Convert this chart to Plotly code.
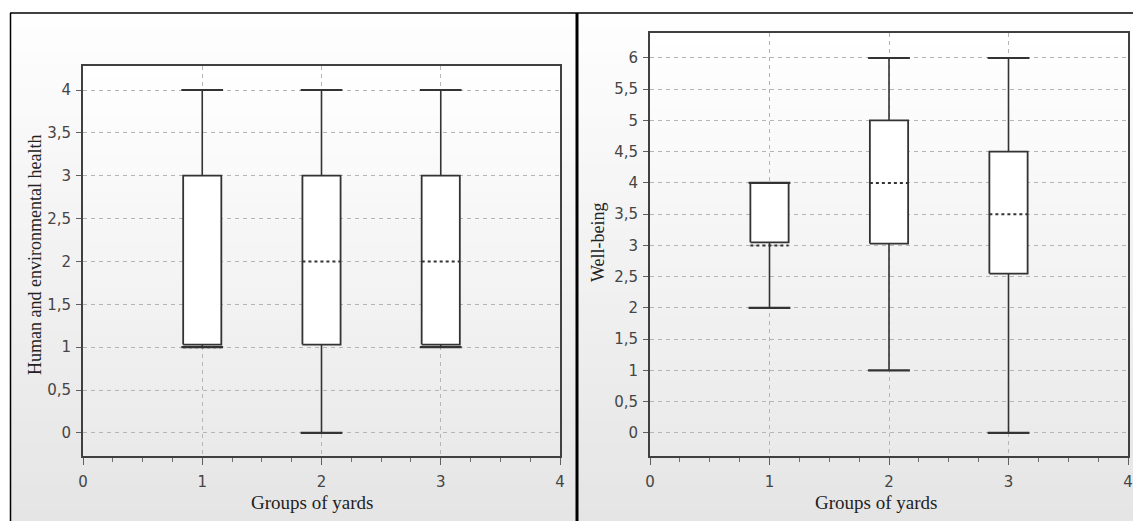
import plotly.graph_objects as go

# ---------------- data ----------------
groups = [1, 2, 3]

left_title = "Human and environmental health"
left_min = [1, 0, 1]
left_q1 = [1.03, 1.03, 1.03]
left_med = [1, 2, 2]
left_q3 = [3, 3, 3]
left_max = [4, 4, 4]

right_title = "Well-being"
right_min = [2, 1, 0]
right_q1 = [3.05, 3.03, 2.55]
right_med = [3, 4, 3.5]
right_q3 = [4, 5, 4.5]
right_max = [4, 6, 6]

x_title = "Groups of yards"

# ---------------- style ----------------
W, H = 1133, 521
BOX_HW = 0.16
CAP_HW = 0.175
DARK = "#333333"

def px_x(p):
    return p / W

def px_y(p):
    return 1 - p / H

fig = go.Figure()

def add_boxes(xa, ya, mins, q1s, meds, q3s, maxs):
    for g, mn, q1, md, q3, mx in zip(groups, mins, q1s, meds, q3s, maxs):
        # whiskers
        fig.add_trace(go.Scatter(x=[g, g, None, g, g], y=[mn, q1, None, q3, mx],
                                 mode="lines", line=dict(color=DARK, width=1.6),
                                 xaxis=xa, yaxis=ya, showlegend=False, hoverinfo="skip"))
        # box
        fig.add_trace(go.Scatter(x=[g - BOX_HW, g + BOX_HW, g + BOX_HW, g - BOX_HW, g - BOX_HW],
                                 y=[q1, q1, q3, q3, q1], mode="lines", fill="toself",
                                 fillcolor="white", line=dict(color=DARK, width=1.8),
                                 xaxis=xa, yaxis=ya, showlegend=False, hoverinfo="skip"))
        # caps
        fig.add_trace(go.Scatter(x=[g - CAP_HW, g + CAP_HW, None, g - CAP_HW, g + CAP_HW],
                                 y=[mn, mn, None, mx, mx], mode="lines",
                                 line=dict(color=DARK, width=2.2),
                                 xaxis=xa, yaxis=ya, showlegend=False, hoverinfo="skip"))
        # median (dashed)
        fig.add_trace(go.Scatter(x=[g - BOX_HW, g + BOX_HW], y=[md, md], mode="lines",
                                 line=dict(color=DARK, width=2, dash="3px,3px"),
                                 xaxis=xa, yaxis=ya, showlegend=False, hoverinfo="skip"))

add_boxes("x", "y", left_min, left_q1, left_med, left_q3, left_max)
add_boxes("x2", "y2", right_min, right_q1, right_med, right_q3, right_max)

# ---------------- background gradients ----------------
shapes = []

def gradient(x0p, x1p, y0p, y1p, c_top, c_bot, n=40):
    for i in range(n):
        t = i / (n - 1)
        c = [round(c_top[k] + (c_bot[k] - c_top[k]) * t) for k in range(3)]
        ya = y0p + (y1p - y0p) * i / n
        yb = y0p + (y1p - y0p) * (i + 1) / n
        shapes.append(dict(type="rect", xref="paper", yref="paper", layer="below",
                           x0=px_x(x0p), x1=px_x(x1p), y0=px_y(ya), y1=px_y(yb + 0.5),
                           line=dict(width=0), fillcolor=f"rgb({c[0]},{c[1]},{c[2]})"))

gradient(10, W, 13, H, (254, 254, 254), (229, 229, 229))
gradient(83, 560, 66, 456, (255, 255, 255), (234, 234, 234))
gradient(650, 1128, 33, 456, (255, 255, 255), (234, 234, 234))

# frame lines
shapes.append(dict(type="line", xref="paper", yref="paper", x0=px_x(10), x1=1,
                   y0=px_y(13), y1=px_y(13), line=dict(color="black", width=1.5)))
shapes.append(dict(type="line", xref="paper", yref="paper", x0=px_x(10.5), x1=px_x(10.5),
                   y0=px_y(13), y1=0, line=dict(color="black", width=1.5)))
shapes.append(dict(type="line", xref="paper", yref="paper", x0=px_x(577), x1=px_x(577),
                   y0=px_y(13), y1=0, line=dict(color="black", width=3)))

# ---------------- axes ----------------
tickfont = dict(family="DejaVu Sans", size=15, color="#454545")
common_x = dict(range=[0, 4], dtick=1, tick0=0, showgrid=True, gridcolor="#b5b5b5",
                griddash="4px,4px", gridwidth=1, zeroline=False, showline=True,
                linecolor="#404040", linewidth=2, mirror=True, ticks="outside",
                ticklen=7, tickcolor="#606060", tickwidth=1, tickfont=tickfont,
                ticklabelstandoff=4, automargin=False,
                minor=dict(dtick=0.25, ticks="outside", ticklen=4, tickcolor="#707070",
                           showgrid=False))
common_y = dict(dtick=0.5, tick0=0, showgrid=True, gridcolor="#b5b5b5",
                griddash="4px,4px", gridwidth=1, zeroline=False, showline=True,
                linecolor="#404040", linewidth=2, mirror=True, ticks="outside",
                ticklen=5, tickcolor="#606060", tickwidth=1, tickfont=tickfont,
                ticklabelstandoff=2, automargin=False)

fig.update_layout(
    width=W, height=H, margin=dict(l=0, r=0, t=0, b=0, autoexpand=False),
    paper_bgcolor="white", plot_bgcolor="rgba(0,0,0,0)",
    separators=",.",
    showlegend=False,
    xaxis=dict(domain=[px_x(83), px_x(560)], anchor="y", **common_x),
    yaxis=dict(domain=[px_y(456), px_y(66)], anchor="x", range=[-0.27, 4.28], **common_y),
    xaxis2=dict(domain=[px_x(650), px_x(1128)], anchor="y2", **common_x),
    yaxis2=dict(domain=[px_y(456), px_y(33)], anchor="x2", range=[-0.37, 6.4], **common_y),
    shapes=shapes,
)

ytitlefont = dict(family="Liberation Serif", size=18, color="#222222")
xtitlefont = dict(family="Liberation Serif", size=19, color="#222222")
fig.add_annotation(text=left_title, textangle=-90, xref="paper", yref="paper",
                   x=px_x(35), y=px_y(255), xanchor="center", yanchor="middle",
                   showarrow=False, font=ytitlefont)
fig.add_annotation(text=right_title, textangle=-90, xref="paper", yref="paper",
                   x=px_x(598), y=px_y(242), xanchor="center", yanchor="middle",
                   showarrow=False, font=ytitlefont)
fig.add_annotation(text=x_title, xref="paper", yref="paper",
                   x=px_x(312), y=px_y(502), xanchor="center", yanchor="middle",
                   showarrow=False, font=xtitlefont)
fig.add_annotation(text=x_title, xref="paper", yref="paper",
                   x=px_x(876), y=px_y(502), xanchor="center", yanchor="middle",
                   showarrow=False, font=xtitlefont)

fig.write_html("out.html", config={"displayModeBar": False},
               post_script="document.body.style.margin='0';document.body.style.padding='0';")
